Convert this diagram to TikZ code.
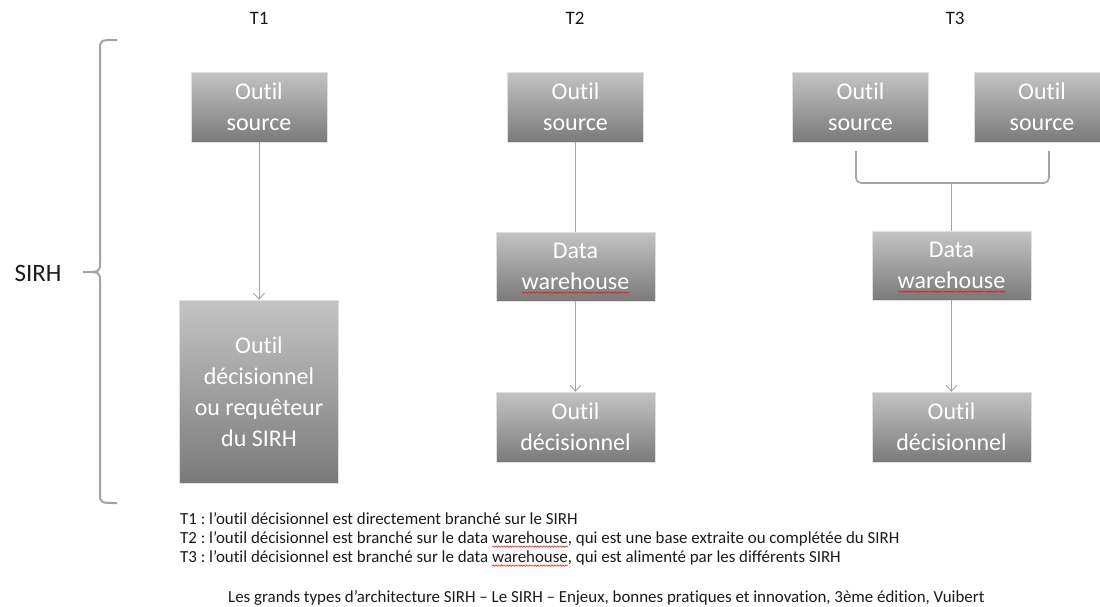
\documentclass[tikz,border=0pt]{standalone}
\usepackage{fontspec}
\setmainfont{Carlito}[Ligatures=NoCommon]
\frenchspacing
\usetikzlibrary{arrows.meta,decorations.pathmorphing}
\definecolor{boxtop}{HTML}{C4C4C4}
\definecolor{boxbot}{HTML}{7A7A7A}
\definecolor{linegray}{HTML}{A3A3A3}
\definecolor{inkblack}{HTML}{1A1A1A}
% red wavy underline of the spell checker
\newsavebox{\spellbox}
\newcommand{\spellerr}[1]{\sbox{\spellbox}{#1}%
  \rlap{\raisebox{-4pt}[0pt][0pt]{\tikz[x=1pt,y=1pt]
    \draw[red,line width=0.5pt,decorate,
          decoration={snake,amplitude=0.7pt,segment length=2.8pt}]
    (0,0) -- (\wd\spellbox,0);}}\usebox{\spellbox}}

\begin{document}
\begin{tikzpicture}[x=1pt,y=-1pt]
    \tikzstyle{tool}=[draw=gray!25,top color=boxtop,bottom color=boxbot,
                      text=white,align=center,inner sep=0pt,
                      font=\fontsize{24}{31}\selectfont]
    \tikzstyle{link}=[draw=linegray,line width=0.9pt]
    \tikzstyle{arrowlink}=[link,-{Straight Barb[length=6pt,width=11pt]}]
    \tikzstyle{title}=[text=inkblack,font=\fontsize{19}{22}\selectfont]
    \tikzstyle{note}=[text=inkblack,align=left,anchor=west,inner sep=0pt,
                      font=\fontsize{16.9}{19}\selectfont]

    \useasboundingbox (0,0) rectangle (1100,606);
    \clip (0,0) rectangle (1100,606);

    % Column titles and the brace for the SIRH
    \node[title] (t1) at (259,18) {T1};
    \node[title] (t2) at (575,18) {T2};
    \node[title] (t3) at (955,18) {T3};
    \node[title,font=\fontsize{25}{28}\selectfont] (sirh) at (38,273) {SIRH};
    \draw[draw=linegray,line width=2pt]
        (117,40) .. controls (100,40) .. (100,50) -- (100,262)
        .. controls (100,272) .. (83,272)
        .. controls (100,272) .. (100,282) -- (100,493)
        .. controls (100,503) .. (117,503);

    % T1: the tool sits directly on the SIRH
    \node[tool,minimum width=136pt,minimum height=70pt] (src1) at (259,107) {Outil\\source};
    \node[tool,minimum width=159pt,minimum height=183pt] (dec1) at (259,391.5)
        {Outil\\décisionnel\\ou requêteur\\du SIRH};
    \draw[arrowlink] (src1) -- (dec1);

    % T2: through one data warehouse
    \node[tool,minimum width=136pt,minimum height=70pt] (src2) at (575.5,107) {Outil\\source};
    \node[tool,minimum width=159pt,minimum height=69pt] (dw2) at (575.5,266.5)
        {Data\\\spellerr{warehouse}};
    \node[tool,minimum width=159pt,minimum height=70pt] (dec2) at (575.5,427) {Outil\\décisionnel};
    \draw[link] (src2) -- (dw2);
    \draw[arrowlink] (dw2) -- (dec2);

    % T3: several sources feed the data warehouse
    \node[tool,minimum width=136pt,minimum height=70pt] (srcA3) at (860.5,107) {Outil\\source};
    \node[tool,minimum width=136pt,minimum height=70pt] (srcB3) at (1042,107) {Outil\\source};
    \node[tool,minimum width=159pt,minimum height=69pt] (dw3) at (951.5,265.5)
        {Data\\\spellerr{warehouse}};
    \node[tool,minimum width=159pt,minimum height=70pt] (dec3) at (951.5,427) {Outil\\décisionnel};
    \draw[draw=linegray,line width=1.6pt,rounded corners=5pt]
        (856,151) -- (856,183) -- (1049,183) -- (1049,151);
    \coordinate (join3) at (951.5,183);
    \draw[link] (join3) -- (dw3);
    \draw[arrowlink] (dw3) -- (dec3);

    % Notes under the picture
    \node[note] (notes) at (180,539)
        {T1 : l’outil décisionnel est directement branché sur le SIRH\\
         T2 : l’outil décisionnel est branché sur le data \spellerr{warehouse}, qui est une base extraite ou complétée du SIRH\\
         T3 : l’outil décisionnel est branché sur le data \spellerr{warehouse}, qui est alimenté par les différents SIRH};
    \node[note] (cite) at (228,598)
        {Les grands types d’architecture SIRH – Le SIRH – Enjeux, bonnes pratiques et innovation, 3ème édition, Vuibert};
\end{tikzpicture}
\end{document}
